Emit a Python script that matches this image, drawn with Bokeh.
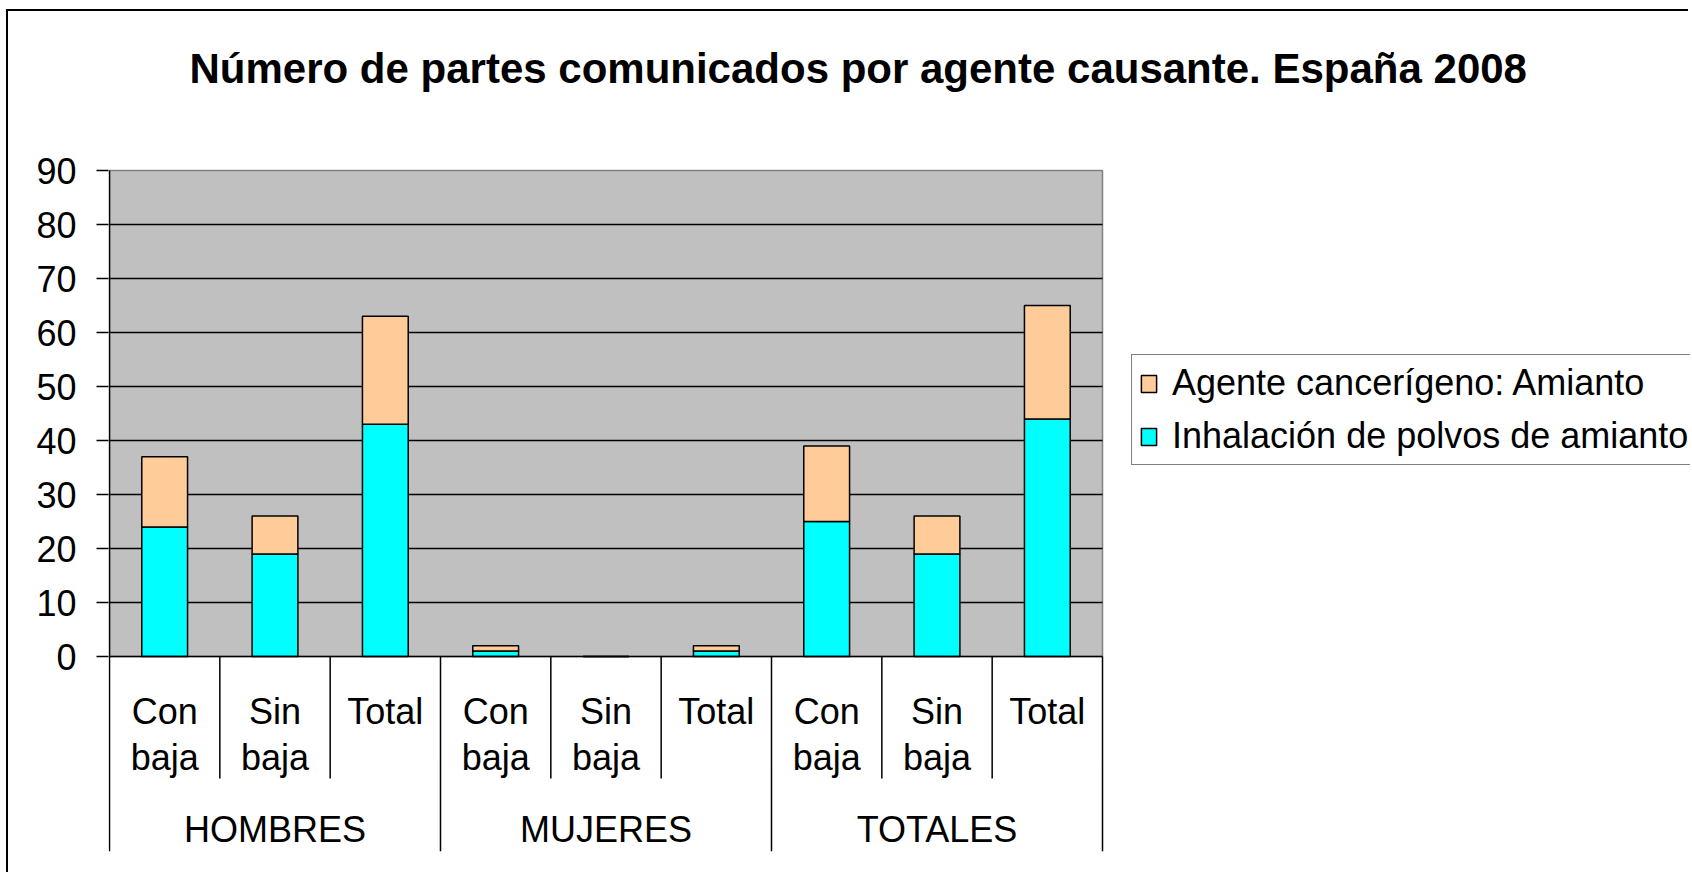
from bokeh.plotting import figure
from bokeh.models import (Range1d, FixedTicker, ColumnDataSource, Legend,
                          LegendItem)
from bokeh.core.properties import value
from bokeh.embed import file_html
from bokeh.resources import INLINE

# ---- data ----
groups = ["HOMBRES", "MUJERES", "TOTALES"]
subcats = ["Con baja", "Sin baja", "Total"]
inhalacion = [24, 19, 43, 1, 0, 1, 25, 19, 44]      # Inhalación de polvos de amianto
agente = [13, 7, 20, 1, 0, 1, 14, 7, 21]            # Agente cancerígeno: Amianto
y_ticks = [0, 10, 20, 30, 40, 50, 60, 70, 80, 90]
title = "Número de partes comunicados por agente causante. España 2008"
series_names = ["Inhalación de polvos de amianto", "Agente cancerígeno: Amianto"]

# ---- layout constants (pixels on the canvas) ----
FONT = "Liberation Sans"
W, H = 1682, 863
FRAME_LEFT = 100              # frame left edge
AXIS_X = 101                  # canvas x of the value axis (category 0)
TOP_PX = 159                  # canvas y of the top value (90)
ZERO_PX = 645                 # canvas y of value 0
BOTTOM = 840                  # frame bottom (end of group separators)
PLOT_W = 993                  # width of the grey plotting area
TITLE_X, TITLE_BASE = 181, 57 # title start / baseline on the canvas

n_sub = len(subcats)
n_cat = len(groups) * n_sub
centers = [i + 0.5 for i in range(n_cat)]

ppu_y = (ZERO_PX - TOP_PX) / (y_ticks[-1] - y_ticks[0])
ppu_x = PLOT_W / n_cat
y_min = -(BOTTOM - ZERO_PX) / ppu_y
y_max = y_ticks[-1] + TOP_PX / ppu_y
x_min = -(AXIS_X - FRAME_LEFT) / ppu_x
x_max = x_min + (W - FRAME_LEFT) / ppu_x

p = figure(width=W, height=H, output_backend="svg", toolbar_location=None,
           x_range=Range1d(x_min, x_max), y_range=Range1d(y_min, y_max),
           x_axis_location=None,
           min_border_left=FRAME_LEFT, min_border_right=0, min_border_top=0,
           min_border_bottom=H - BOTTOM,
           styles={"margin-left": "6px", "margin-top": "9px",
                   "border-left": "2px solid black", "border-top": "2px solid black"})
p.title = None

p.background_fill_color = "white"
p.border_fill_color = "white"
p.outline_line_color = None
p.xgrid.visible = False
p.ygrid.visible = False

# title
p.text(x=[(TITLE_X - AXIS_X) / ppu_x], y=[y_ticks[-1] + (TOP_PX - TITLE_BASE) / ppu_y],
       text=[title], text_align="left", text_baseline="alphabetic",
       text_font=value(FONT), text_font_size="42px", text_font_style="bold",
       text_color="black")

# grey plot area with its grey border
p.quad(left=[0], right=[n_cat], bottom=[y_ticks[0]], top=[y_ticks[-1]],
       fill_color="#C0C0C0", line_color="#808080", line_width=1.5)
# horizontal grid lines
grid_y = y_ticks[1:-1]
p.segment(x0=[0] * len(grid_y), x1=[n_cat] * len(grid_y), y0=grid_y, y1=grid_y,
          line_color="black", line_width=1.5)

# stacked bars
src = ColumnDataSource(dict(x=centers, inh=inhalacion, age=agente))
rs = p.vbar_stack(["inh", "age"], x="x", width=0.415, source=src,
                  fill_color=["#00FFFF", "#FFCC99"], line_color="black",
                  line_width=1.5)

# value axis line, category axis line and separators
p.segment(x0=[0], x1=[0], y0=[y_ticks[0]], y1=[y_ticks[-1]],
          line_color="black", line_width=1.5)
p.segment(x0=[0], x1=[n_cat], y0=[0], y1=[0], line_color="black", line_width=1.5)
group_bounds = [g * n_sub for g in range(len(groups) + 1)]
sub_bounds = [i for i in range(n_cat) if i % n_sub != 0]
p.segment(x0=group_bounds, x1=group_bounds, y0=[0] * len(group_bounds),
          y1=[y_min] * len(group_bounds), line_color="black", line_width=1.5)
short_end = -122 / ppu_y
p.segment(x0=sub_bounds, x1=sub_bounds, y0=[0] * len(sub_bounds),
          y1=[short_end] * len(sub_bounds), line_color="black", line_width=1.5)

# category labels
row1_x, row1_t, row2_x, row2_t = [], [], [], []
for i in range(n_cat):
    words = subcats[i % n_sub].split(" ")
    row1_x.append(centers[i]); row1_t.append(words[0])
    if len(words) > 1:
        row2_x.append(centers[i]); row2_t.append(" ".join(words[1:]))
txt = dict(text_align="center", text_baseline="middle", text_font=value(FONT),
           text_font_size="36px", text_color="black")
p.text(x=row1_x, y=[-55 / ppu_y] * len(row1_x), text=row1_t, **txt)
p.text(x=row2_x, y=[-101 / ppu_y] * len(row2_x), text=row2_t, **txt)
p.text(x=[g * n_sub + n_sub / 2 for g in range(len(groups))],
       y=[-173 / ppu_y] * len(groups), text=groups, **txt)

# y axis (ticks and labels; its line is drawn above as a segment)
ya = p.yaxis[0]
ya.ticker = FixedTicker(ticks=y_ticks)
ya.axis_line_color = None
ya.major_tick_out = 12
ya.major_tick_in = 0
ya.minor_tick_out = 0
ya.minor_tick_in = 0
ya.major_label_standoff = 20
ya.major_tick_line_width = 1.5
ya.major_tick_line_color = "black"
ya.major_label_text_font = FONT
ya.major_label_text_font_size = "36px"
ya.major_label_text_color = "black"

# legend
legend = Legend(items=[LegendItem(label=series_names[1], renderers=[rs[1]]),
                       LegendItem(label=series_names[0], renderers=[rs[0]])],
                location=(1023, BOTTOM - 454))
legend.border_line_color = "black"
legend.border_line_width = 1.5
legend.background_fill_color = "white"
legend.background_fill_alpha = 1
legend.label_text_font = FONT
legend.label_text_font_size = "36px"
legend.label_text_color = "black"
legend.glyph_width = 19
legend.glyph_height = 21
legend.label_standoff = 14
legend.padding = 7
legend.spacing = 11
legend.label_height = 40
legend.margin = 0
p.add_layout(legend)

open("out.html", "w").write(file_html(p, INLINE))
